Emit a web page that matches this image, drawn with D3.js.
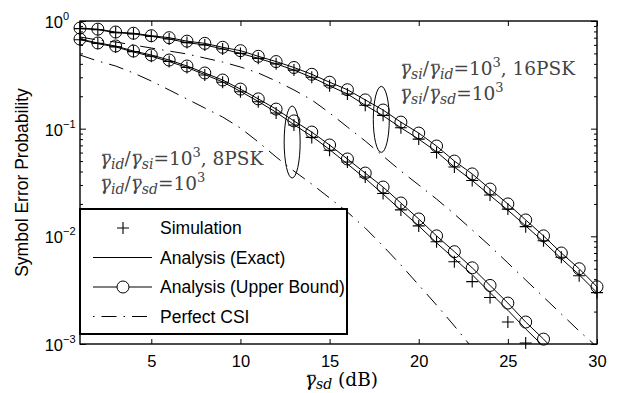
<!DOCTYPE html>
<html>
<head>
<meta charset="utf-8">
<script src="https://cdn.jsdelivr.net/npm/d3@7"></script>
<style>
  body { margin: 0; background: #fff; }
  svg { display: block; }
  .axis text { font-family: "Liberation Sans", Arial, sans-serif; font-size: 16.5px; fill: #000; }
  .axis path { display: none; }
  .axis line { stroke: #000; stroke-width: 1; }
  .note { font-family: "DejaVu Serif", "Liberation Serif", serif; fill: #444; }
</style>
</head>
<body>
<div id="chart"></div>
<script>
// SNR values (dB)
const snr = [1, 2, 3, 4, 5, 6, 7, 8, 9, 10, 11, 12, 13, 14, 15, 16, 17, 18, 19, 20, 21, 22, 23, 24, 25, 26, 27, 28, 29, 30];

// 16PSK curves
const ub16 = [0.86, 0.84, 0.79, 0.77, 0.73, 0.70, 0.65, 0.62, 0.57, 0.53, 0.47, 0.42, 0.37, 0.32, 0.27, 0.23, 0.185, 0.149, 0.115, 0.091, 0.069, 0.050, 0.038, 0.0275, 0.020, 0.0142, 0.0101, 0.0070, 0.0050, 0.0034];
const exact16 = [0.85, 0.83, 0.78, 0.76, 0.72, 0.68, 0.63, 0.60, 0.55, 0.50, 0.45, 0.40, 0.35, 0.30, 0.25, 0.21, 0.165, 0.132, 0.102, 0.080, 0.061, 0.044, 0.033, 0.024, 0.0175, 0.0125, 0.0089, 0.0062, 0.0044, 0.0030];
const sim16 = [0.85, 0.83, 0.78, 0.76, 0.72, 0.68, 0.63, 0.60, 0.55, 0.50, 0.45, 0.40, 0.35, 0.30, 0.25, 0.21, 0.165, 0.133, 0.102, 0.080, 0.060, 0.044, 0.033, 0.0242, 0.0179, 0.0123, 0.0091, 0.0064, 0.0043, 0.0030];
const csi16 = [0.71, 0.666, 0.638, 0.598, 0.561, 0.526, 0.494, 0.453, 0.416, 0.374, 0.329, 0.277, 0.229, 0.185, 0.140, 0.1036, 0.0768, 0.0557, 0.0404, 0.030, 0.0222, 0.0161, 0.01146, 0.00813, 0.00566, 0.00393, 0.00273, 0.0019, 0.00132, 0.00094];

// 8PSK curves
const ub8 = [0.68, 0.625, 0.586, 0.526, 0.483, 0.434, 0.382, 0.329, 0.283, 0.233, 0.189, 0.152, 0.118, 0.093, 0.0705, 0.0523, 0.0387, 0.0287, 0.0204, 0.0145, 0.0101, 0.0072, 0.0051, 0.0035, 0.0024, 0.0016, 0.00111, 0.00075];
const exact8 = [0.67, 0.615, 0.575, 0.515, 0.47, 0.42, 0.37, 0.318, 0.272, 0.222, 0.179, 0.142, 0.109, 0.085, 0.064, 0.047, 0.0345, 0.0247, 0.0175, 0.0125, 0.0087, 0.0062, 0.0044, 0.0030, 0.00206, 0.00138, 0.00095, 0.00064];
const sim8 = [0.67, 0.62, 0.575, 0.52, 0.47, 0.42, 0.37, 0.315, 0.27, 0.22, 0.178, 0.14, 0.108, 0.083, 0.063, 0.049, 0.0356, 0.025, 0.0176, 0.0125, 0.0089, 0.0058, 0.0038, 0.0027, 0.0016, 0.00102];
const csi8 = [0.483, 0.425, 0.382, 0.329, 0.277, 0.229, 0.1887, 0.1556, 0.1283, 0.1014, 0.0752, 0.0546, 0.0404, 0.0306, 0.0227, 0.0168, 0.01195, 0.00813, 0.00542, 0.00353, 0.0023, 0.00147, 0.00092];

// axes
const xTicks = [5, 10, 15, 20, 25, 30];
const yTicks = [1, 0.1, 0.01, 0.001];
const yTickExp = ['0', '\u22121', '\u22122', '\u22123'];
const legendLabels = ['Simulation', 'Analysis (Exact)', 'Analysis (Upper Bound)', 'Perfect CSI'];

// Layout
const width = 623;
const height = 393;
const margins = { top: 21, bottom: 49, left: 80, right: 26 };
const plotW = width - margins.left - margins.right;
const plotH = height - margins.top - margins.bottom;
const dashDot = '15,7,1.5,7';

const svg = d3.select('#chart').append('svg')
  .attr('width', width)
  .attr('height', height);

svg.append('defs').append('clipPath').attr('id', 'plotclip')
  .append('rect').attr('width', plotW).attr('height', plotH);

const plot = svg.append('g')
  .attr('transform', `translate(${margins.left}, ${margins.top})`);

const x = d3.scaleLinear().domain([1, 30]).range([0, plotW]);
const y = d3.scaleLog().domain([1e-3, 1]).range([plotH, 0]);

// ticks (pointing inwards on every side)
plot.append('g').attr('class', 'axis')
  .attr('transform', `translate(0, ${plotH})`)
  .call(d3.axisBottom(x).tickValues(xTicks).tickSize(-5).tickSizeOuter(0).tickPadding(11));
plot.append('g').attr('class', 'axis')
  .call(d3.axisTop(x).tickValues(xTicks).tickSize(-5).tickSizeOuter(0).tickFormat(''));

const minor = y.ticks().filter(v => yTicks.indexOf(v) < 0);
plot.append('g').attr('class', 'axis')
  .call(d3.axisLeft(y).tickValues(yTicks).tickSize(-6).tickSizeOuter(0).tickFormat(''));
plot.append('g').attr('class', 'axis')
  .call(d3.axisLeft(y).tickValues(minor).tickSize(-3).tickSizeOuter(0).tickFormat(''));
plot.append('g').attr('class', 'axis')
  .attr('transform', `translate(${plotW}, 0)`)
  .call(d3.axisRight(y).tickValues(yTicks).tickSize(-6).tickSizeOuter(0).tickFormat(''));
plot.append('g').attr('class', 'axis')
  .attr('transform', `translate(${plotW}, 0)`)
  .call(d3.axisRight(y).tickValues(minor).tickSize(-3).tickSizeOuter(0).tickFormat(''));

// y tick labels: 10^k
const yLab = plot.append('g').attr('class', 'axis');
yTicks.forEach((v, i) => {
  yLab.append('text')
    .attr('x', -17)
    .attr('y', y(v) + 7)
    .attr('text-anchor', 'end')
    .text('10');
  yLab.append('text')
    .attr('x', -17)
    .attr('y', y(v) - 1)
    .style('font-size', '11px')
    .text(yTickExp[i]);
});

// curves
const curves = plot.append('g').attr('clip-path', 'url(#plotclip)');
const valueLine = d3.line()
  .x((d, i) => x(snr[i]))
  .y(d => y(d));

[csi16, csi8].forEach(s => {
  curves.append('path')
    .attr('d', valueLine(s))
    .style('fill', 'none')
    .style('stroke', '#000')
    .attr('stroke-width', 1)
    .attr('stroke-dasharray', dashDot);
});
[exact16, exact8, ub16, ub8].forEach(s => {
  curves.append('path')
    .attr('d', valueLine(s))
    .style('fill', 'none')
    .style('stroke', '#000')
    .attr('stroke-width', 1);
});

// markers
const inRange = v => v >= 1e-3 * 0.97;
[ub16, ub8].forEach(s => {
  plot.append('g').selectAll('circle')
    .data(s.map((v, i) => ({ snr: snr[i], p: v })).filter(d => inRange(d.p)))
    .enter().append('circle')
      .attr('cx', d => x(d.snr))
      .attr('cy', d => y(d.p))
      .attr('r', 6)
      .style('fill', 'none')
      .style('stroke', '#000')
      .attr('stroke-width', 1);
});
const plusPath = 'M-6,0H6M0,-6V6';
[sim16, sim8].forEach(s => {
  plot.append('g').selectAll('path')
    .data(s.map((v, i) => ({ snr: snr[i], p: v })).filter(d => inRange(d.p)))
    .enter().append('path')
      .attr('d', plusPath)
      .attr('transform', d => `translate(${x(d.snr)}, ${y(d.p)})`)
      .style('stroke', '#000')
      .attr('stroke-width', 1.1);
});

// ellipses grouping curves
const ellipses = [{ snr: 12.9, p: 0.0752, rx: 8, ry: 36 }, { snr: 17.9, p: 0.122, rx: 8, ry: 33 }];
plot.selectAll('.grp').data(ellipses).enter().append('ellipse')
  .attr('class', 'grp')
  .attr('cx', d => x(d.snr))
  .attr('cy', d => y(d.p))
  .attr('rx', d => d.rx)
  .attr('ry', d => d.ry)
  .style('fill', 'none')
  .style('stroke', '#000')
  .attr('stroke-width', 1);

// bar over the gamma glyphs of a text element
function gammaBars(g, t) {
  const node = t.node();
  const str = node.textContent;
  for (let i = 0; i < str.length; i++) {
    if (str[i] !== '\u03B3') continue;
    const b = node.getExtentOfChar(i);
    const yy = b.y + b.height * 0.3;
    g.append('line')
      .attr('x1', b.x + b.width * 0.22).attr('x2', b.x + b.width * 0.95)
      .attr('y1', yy).attr('y2', yy)
      .style('stroke', t.style('fill'))
      .attr('stroke-width', 1);
  }
}

// annotations
function ratio(g, a, b, px, py, tail) {
  const t = g.append('text').attr('class', 'note').attr('x', px).attr('y', py).style('font-size', '18.5px');
  t.append('tspan').style('font-style', 'italic').text('\u03B3');
  t.append('tspan').style('font-style', 'italic').style('font-size', '14px').attr('dy', 4).text(a);
  t.append('tspan').attr('dy', -4).text('/');
  t.append('tspan').style('font-style', 'italic').text('\u03B3');
  t.append('tspan').style('font-style', 'italic').style('font-size', '14px').attr('dy', 4).text(b);
  t.append('tspan').attr('dy', -4).text('=10');
  t.append('tspan').style('font-size', '13px').attr('dy', -8).text('3');
  t.append('tspan').attr('dy', 8).text(tail);
  gammaBars(g, t);
}
ratio(svg, 'id', 'si', 100, 165, ', 8PSK');
ratio(svg, 'id', 'sd', 100, 190, '');
ratio(svg, 'si', 'id', 400, 75, ', 16PSK');
ratio(svg, 'si', 'sd', 400, 100, '');

// plot frame
plot.append('rect')
  .attr('width', plotW)
  .attr('height', plotH)
  .style('fill', 'none')
  .style('stroke', '#000')
  .attr('stroke-width', 1.4);

// axis titles
svg.append('text')
  .attr('transform', `translate(28, ${margins.top + plotH / 2}) rotate(-90)`)
  .attr('text-anchor', 'middle')
  .style('font-family', '"Liberation Sans", Arial, sans-serif')
  .style('font-size', '17.5px')
  .text('Symbol Error Probability');

const xt = svg.append('text').attr('class', 'note')
  .attr('x', 305).attr('y', 386).style('font-size', '18.5px').style('fill', '#000');
xt.append('tspan').style('font-style', 'italic').text('\u03B3');
xt.append('tspan').style('font-style', 'italic').style('font-size', '14px').attr('dy', 3).text('sd');
xt.append('tspan').attr('dy', -3).text(' (dB)');
gammaBars(svg, xt);

// legend
const legend = plot.append('g');
legend.append('rect')
  .attr('x', 0).attr('y', 188)
  .attr('width', 267).attr('height', 125)
  .style('fill', '#fff')
  .style('stroke', '#000')
  .attr('stroke-width', 2);
const rows = legend.selectAll('.row').data(legendLabels).enter().append('g')
  .attr('class', 'row')
  .attr('transform', (d, i) => `translate(0, ${207 + i * 29.5})`);
rows.append('text')
  .attr('x', 80)
  .attr('dy', '0.36em')
  .style('font-family', '"Liberation Sans", Arial, sans-serif')
  .style('font-size', '17.5px')
  .text(d => d);
rows.filter((d, i) => i === 0).append('path')
  .attr('d', plusPath).attr('transform', 'translate(43, 0)')
  .style('stroke', '#000').attr('stroke-width', 1.1);
rows.filter((d, i) => i > 0).append('line')
  .attr('x1', 13).attr('x2', 72)
  .style('stroke', '#000')
  .attr('stroke-width', 1)
  .attr('stroke-dasharray', (d, i) => i === 2 ? '1.5,7,15,7' : null);
rows.filter((d, i) => i === 2).append('circle')
  .attr('cx', 43).attr('r', 6)
  .style('fill', '#fff').style('stroke', '#000');
</script>
</body>
</html>
